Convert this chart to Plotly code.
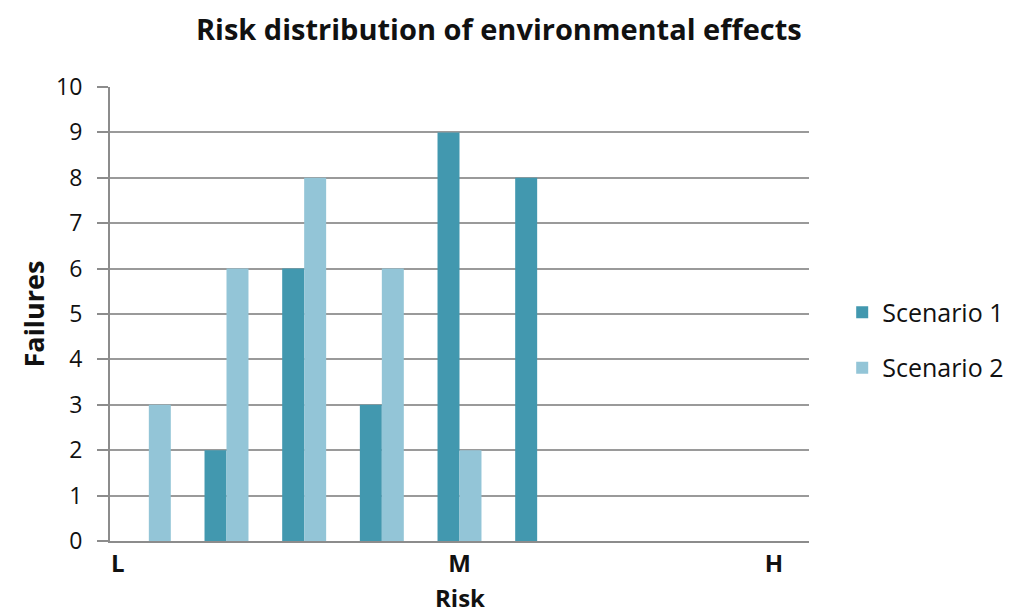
import plotly.graph_objects as go

# 9 risk classes from L to H (index positions along the risk axis)
risk_classes = [0, 1, 2, 3, 4, 5, 6, 7, 8]
scenario_1 = [0, 2, 6, 3, 9, 8, 0, 0, 0]
scenario_2 = [3, 6, 8, 6, 2, 0, 0, 0, 0]
tick_labels = ["L", "M", "H"]
tick_classes = [-0.4, 4, 8.05]

c1 = "#4298AF"
c2 = "#93C5D7"
font_family = "Open Sans"
txt = "#111111"

fig = go.Figure()
fig.add_trace(go.Bar(x=risk_classes, y=scenario_1, name="Scenario 1",
                     marker=dict(color=c1, line=dict(width=0)), legendgroup="a"))
fig.add_trace(go.Bar(x=risk_classes, y=scenario_2, name="Scenario 2",
                     marker=dict(color=c2, line=dict(width=0)), legendgroup="b"))

fig.update_layout(
    width=1012, height=614,
    margin=dict(l=102, r=210, t=79, b=81),
    paper_bgcolor="white", plot_bgcolor="white",
    barmode="group", bargap=0.434, bargroupgap=0,
    title=dict(text="<b>Risk distribution of environmental effects</b>",
               x=0.485, xanchor="center", y=0.964, yanchor="middle",
               font=dict(family=font_family, size=29, color=txt)),
    font=dict(family=font_family, size=22, color=txt),
    xaxis=dict(range=[-0.5, 8.5], tickmode="array", tickvals=tick_classes,
               ticktext=["<b>%s</b>" % t for t in tick_labels],
               showgrid=False, zeroline=False, showline=True, linecolor="#8c8c8c",
               linewidth=2, ticks="", tickfont=dict(size=24)),
    yaxis=dict(range=[0, 10], dtick=1, showgrid=True, gridcolor="#9a9a9a", gridwidth=1.5,
               zeroline=False, showline=True, linecolor="#8c8c8c", linewidth=2,
               ticks="outside", ticklen=11, tickcolor="#8c8c8c", tickwidth=2,
               ticklabelstandoff=10,
               tickfont=dict(size=23),
               title=dict(text="<b>Failures</b>", standoff=4, font=dict(size=27))),
    legend=dict(x=1.046, y=0.443, xanchor="left", yanchor="middle",
                tracegroupgap=20, traceorder="grouped",
                font=dict(size=25)),
    annotations=[dict(text="<b>Risk</b>", xref="paper", yref="paper",
                      x=0.5, y=-0.124, xanchor="center", yanchor="middle",
                      showarrow=False, font=dict(size=24, color=txt))],
)

fig.write_html("out.html")
